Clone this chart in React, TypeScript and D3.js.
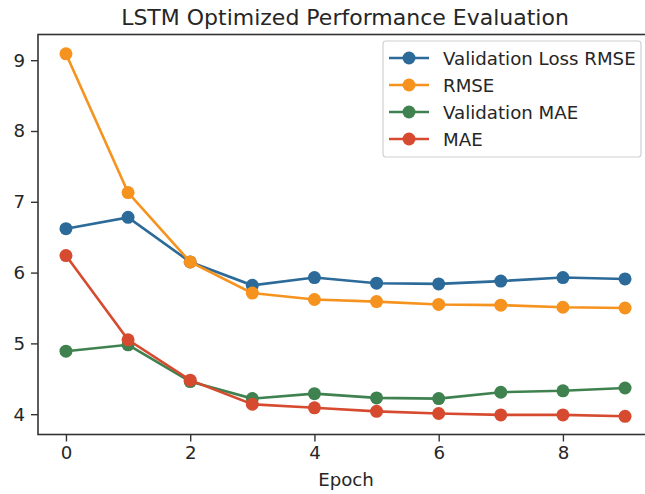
import * as d3 from "d3";
import { useEffect, useRef } from "react";

const epochs = [0, 1, 2, 3, 4, 5, 6, 7, 8, 9];
const valRmse = [6.62, 6.78, 6.15, 5.82, 5.93, 5.85, 5.84, 5.88, 5.93, 5.91];
const rmse = [9.09, 7.13, 6.15, 5.71, 5.62, 5.59, 5.55, 5.54, 5.51, 5.5];
const valMae = [4.89, 4.98, 4.46, 4.22, 4.29, 4.23, 4.22, 4.31, 4.33, 4.37];
const mae = [6.24, 5.05, 4.48, 4.14, 4.09, 4.04, 4.01, 3.99, 3.99, 3.97];
const seriesNames = ["Validation Loss RMSE", "RMSE", "Validation MAE", "MAE"];
const seriesColors = ["#2b6a99", "#f6921e", "#3f8250", "#d64b30"];
const xTicks = [0, 2, 4, 6, 8];
const yTicks = [4, 5, 6, 7, 8, 9];

export default function App() {
  const svgRef = useRef<SVGSVGElement>(null);
  const width = 645;
  const height = 494;

  useEffect(() => {
    if (!svgRef.current) return;
    const svg = d3.select(svgRef.current);
    svg.selectAll("*").remove();

    const left = 38, right = 653, top = 34.5, bottom = 434.5;
    const font = "DejaVu Sans, sans-serif";
    const ink = "#262626";
    const fs = 18.2;

    const x = d3.scaleLinear().domain([-0.45, 9.45]).range([left, right]);
    const y = d3.scaleLinear().domain([3.713, 9.363]).range([bottom, top]);

    svg.append("rect").attr("width", width).attr("height", height).attr("fill", "#fff");

    // title
    svg.append("text")
      .attr("x", 345).attr("y", 25)
      .attr("text-anchor", "middle")
      .attr("font-family", font).attr("font-size", 22).attr("fill", ink)
      .text("LSTM Optimized Performance Evaluation");

    const data = [valRmse, rmse, valMae, mae];
    const line = d3.line<number>().x((_, i) => x(epochs[i])).y(d => y(d));

    data.forEach((vals, k) => {
      const g = svg.append("g");
      g.append("path")
        .datum(vals)
        .attr("fill", "none")
        .attr("stroke", seriesColors[k])
        .attr("stroke-width", 2.6)
        .attr("d", line);
      g.selectAll("circle")
        .data(vals)
        .enter()
        .append("circle")
        .attr("cx", (_, i) => x(epochs[i]))
        .attr("cy", d => y(d))
        .attr("r", 6.5)
        .attr("fill", seriesColors[k]);
    });

    // frame
    svg.append("rect")
      .attr("x", left).attr("y", top)
      .attr("width", right - left).attr("height", bottom - top)
      .attr("fill", "none").attr("stroke", "#333").attr("stroke-width", 1.6);

    // axes
    const xAxis = svg.append("g")
      .attr("transform", `translate(0,${bottom})`)
      .call(d3.axisBottom(x).tickValues(xTicks).tickSize(7).tickPadding(5).tickFormat(d3.format("d")));
    xAxis.select(".domain").remove();
    const yAxis = svg.append("g")
      .attr("transform", `translate(${left},0)`)
      .call(d3.axisLeft(y).tickValues(yTicks).tickSize(7).tickPadding(6).tickFormat(d3.format("d")));
    yAxis.select(".domain").remove();
    svg.selectAll(".tick line").attr("stroke", "#333").attr("stroke-width", 1.4);
    svg.selectAll(".tick text")
      .attr("font-family", font).attr("font-size", fs).attr("fill", ink);

    svg.append("text")
      .attr("x", 346).attr("y", 486)
      .attr("text-anchor", "middle")
      .attr("font-family", font).attr("font-size", fs).attr("fill", ink)
      .text("Epoch");

    // legend
    const lg = svg.append("g");
    lg.append("rect")
      .attr("x", 383).attr("y", 41).attr("width", 258).attr("height", 116)
      .attr("rx", 3)
      .attr("fill", "#fff").attr("fill-opacity", 0.85)
      .attr("stroke", "#d0d0d0").attr("stroke-width", 1.2);
    seriesNames.forEach((name, k) => {
      const cy = 58 + k * 27;
      lg.append("line")
        .attr("x1", 389).attr("x2", 429).attr("y1", cy).attr("y2", cy)
        .attr("stroke", seriesColors[k]).attr("stroke-width", 2.6);
      lg.append("circle")
        .attr("cx", 409).attr("cy", cy).attr("r", 6.5).attr("fill", seriesColors[k]);
      lg.append("text")
        .attr("x", 443).attr("y", cy + 6.5)
        .attr("font-family", font).attr("font-size", fs).attr("fill", ink)
        .text(name);
    });
  }, []);

  return <svg ref={svgRef} width={width} height={height} style={{ position: "absolute", left: 0, top: 0 }} />;
}
